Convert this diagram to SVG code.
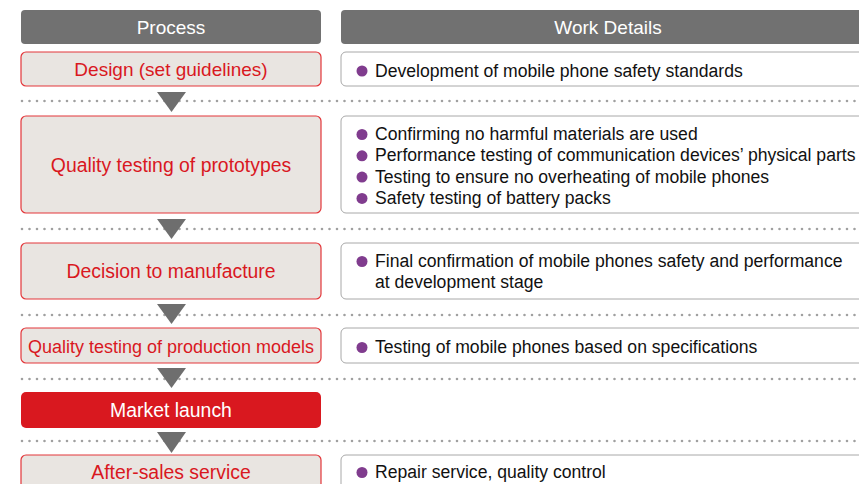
<svg xmlns="http://www.w3.org/2000/svg" width="859" height="484" viewBox="0 0 859 484">
<defs>
<style>
.hdr{fill:#717171}
.hdrt{fill:#ffffff;font-family:"Liberation Sans",Arial,sans-serif;font-size:19px;text-anchor:middle}
.proc{fill:#e9e5e1;stroke:#e3363a;stroke-width:1.2}
.proct{fill:#d9181f;font-family:"Liberation Sans",Arial,sans-serif;font-size:19.4px;text-anchor:middle}
.det{fill:#ffffff;stroke:#a8a8a8;stroke-width:1}
.dett{fill:#111111;font-family:"Liberation Sans",Arial,sans-serif;font-size:17.6px}
.bul{fill:#803c8e}
.dots{stroke:#a0a0a0;stroke-width:2.6;stroke-linecap:round;stroke-dasharray:0 7.5;fill:none}
.tri{fill:#6e6e6e}
</style>
</defs>
<g id="headers">
<rect class="hdr" x="21" y="10" width="300" height="34" rx="4"/>
<text class="hdrt" x="171" y="34">Process</text>
<rect class="hdr" x="341" y="10" width="534" height="34" rx="4"/>
<text class="hdrt" x="608" y="34">Work Details</text>
</g>
<g id="connectors">
<line class="dots" x1="22" y1="101" x2="860" y2="101"/>
<line class="dots" x1="22" y1="229" x2="860" y2="229"/>
<line class="dots" x1="22" y1="315" x2="860" y2="315"/>
<line class="dots" x1="22" y1="379" x2="860" y2="379"/>
<line class="dots" x1="22" y1="441" x2="860" y2="441"/>
<polygon class="tri" points="157,92 186,92 171.5,112"/>
<polygon class="tri" points="157,219 186,219 171.5,239"/>
<polygon class="tri" points="157,304 186,304 171.5,324"/>
<polygon class="tri" points="157,368 186,368 171.5,388"/>
<polygon class="tri" points="157,432 186,432 171.5,453"/>
</g>
<g id="design">
<rect class="proc" x="21" y="52" width="300" height="34" rx="5"/>
<text class="proct" x="171" y="76" style="font-size:19px">Design (set guidelines)</text>
</g>
<g id="design-details">
<rect class="det" x="341" y="52" width="534" height="34" rx="5"/>
<circle class="bul" cx="362" cy="71" r="5.5"/>
<text class="dett" x="375" y="76.5">Development of mobile phone safety standards</text>
</g>
<g id="prototypes">
<rect class="proc" x="21" y="116" width="300" height="97" rx="5"/>
<text class="proct" x="171" y="172">Quality testing of prototypes</text>
</g>
<g id="prototypes-details">
<rect class="det" x="341" y="116" width="534" height="97" rx="5"/>
<circle class="bul" cx="362" cy="134.5" r="5.5"/>
<text class="dett" x="375" y="140">Confirming no harmful materials are used</text>
<circle class="bul" cx="362" cy="155.8" r="5.5"/>
<text class="dett" x="375" y="161.3">Performance testing of communication devices’ physical parts</text>
<circle class="bul" cx="362" cy="177.1" r="5.5"/>
<text class="dett" x="375" y="182.6">Testing to ensure no overheating of mobile phones</text>
<circle class="bul" cx="362" cy="198.4" r="5.5"/>
<text class="dett" x="375" y="203.9">Safety testing of battery packs</text>
</g>
<g id="manufacture">
<rect class="proc" x="21" y="243" width="300" height="56" rx="5"/>
<text class="proct" x="171" y="278">Decision to manufacture</text>
</g>
<g id="manufacture-details">
<rect class="det" x="341" y="243" width="534" height="56" rx="5"/>
<circle class="bul" cx="362" cy="261.5" r="5.5"/>
<text class="dett" x="375" y="267">Final confirmation of mobile phones safety and performance</text>
<text class="dett" x="375" y="288">at development stage</text>
</g>
<g id="production">
<rect class="proc" x="21" y="328" width="300" height="35" rx="5"/>
<text class="proct" x="171" y="353" style="font-size:18px">Quality testing of production models</text>
</g>
<g id="production-details">
<rect class="det" x="341" y="328" width="534" height="35" rx="5"/>
<circle class="bul" cx="362" cy="347.5" r="5.5"/>
<text class="dett" x="375" y="353">Testing of mobile phones based on specifications</text>
</g>
<g id="launch">
<rect x="21" y="392" width="300" height="36" rx="5" fill="#d9181f"/>
<text class="proct" x="171" y="417" style="fill:#ffffff">Market launch</text>
</g>
<g id="aftersales">
<rect class="proc" x="21" y="455" width="300" height="40" rx="5"/>
<text class="proct" x="171" y="479">After-sales service</text>
</g>
<g id="aftersales-details">
<rect class="det" x="341" y="455" width="534" height="40" rx="5"/>
<circle class="bul" cx="362" cy="472.5" r="5.5"/>
<text class="dett" x="375" y="478">Repair service, quality control</text>
</g>
</svg>
